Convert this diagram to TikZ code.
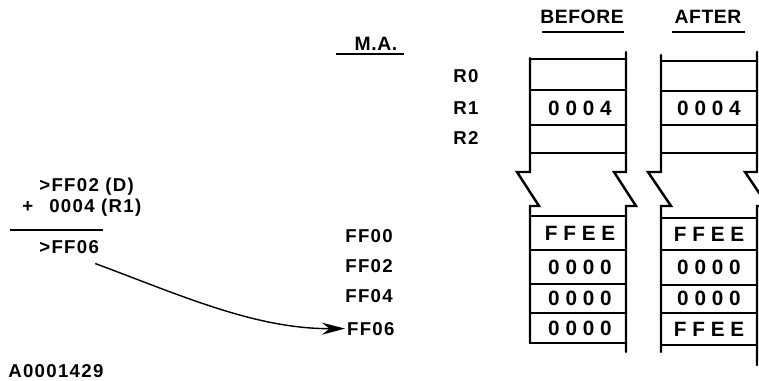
\documentclass[tikz,border=0pt]{standalone}
\usepackage{fontspec}
\setmainfont{Liberation Sans}
\newfontfamily\lblfont[LetterSpace=7]{Liberation Sans Bold}
\newfontfamily\cellfont[LetterSpace=28]{Liberation Sans Bold}
\newfontfamily\headfont[LetterSpace=3]{Liberation Sans Bold}
\usetikzlibrary{arrows.meta}

\begin{document}
\begin{tikzpicture}[x=0.02cm, y=-0.02cm,
  font=\lblfont\fontsize{10.6}{12}\selectfont,
  lbl/.style={inner sep=0pt, anchor=base west},
  cell/.style={inner sep=0pt, font=\cellfont\fontsize{11.8}{13}\selectfont},
  head/.style={inner sep=0pt, anchor=base, font=\headfont\fontsize{11}{13}\selectfont},
  mem/.style={line width=1.4pt, line cap=round},
  rule/.style={line width=0.9pt},
  arr/.style={-{Stealth[length=4.6mm, width=2.4mm]}, line width=0.8pt}]
\useasboundingbox (0,0) rectangle (759,381);
% --- headings ---
\node[head] (before) at (582,24) {BEFORE};
\node[head] (after) at (708,24) {AFTER};
\node[head] (ma) at (376,51) {M.A.};
\draw[rule] (542,32) -- (624,32);
\draw[rule] (672,32) -- (745,32);
\draw[rule] (336,54) -- (404,54);
% --- register and address labels ---
\node[lbl] (r0) at (453,83) {R0};
\node[lbl] (r1) at (453,115) {R1};
\node[lbl] (r2) at (453,145) {R2};
\node[lbl] (a00) at (345,242) {FF00};
\node[lbl] (a02) at (345,272) {FF02};
\node[lbl] (a04) at (345,302) {FF04};
\node[lbl, inner sep=1pt] (a06) at (345,335) {FF06};
% --- address sum ---
\node[lbl] (opd) at (39,192) {>FF02 (D)};
\node[lbl] (plus) at (22,213) {+};
\node[lbl] (opr) at (49,213) {0004 (R1)};
\draw[rule] (10,230) -- (103,230);
\node[lbl] (sum) at (39,253) {>FF06};
\draw[arr] (sum.south east) ++(-4,10) .. controls (180,295) and (255,329) .. (a06.west);
\node[lbl] (fig) at (8,377) {A0001429};
% --- memory before ---
\draw[mem] (530,58) -- (530,172) -- (517,172) -- (539,206) -- (530,206) -- (530,343);
\draw[mem] (626,52) -- (626,172) -- (614,172) -- (636,206) -- (626,206) -- (626,352);
\foreach \y in {59,90,125,153,216,250,284,313,343}
  \draw[mem] (530,\y) -- (626,\y);
% --- memory after ---
\draw[mem] (661,55) -- (661,172) -- (648,172) -- (671,206) -- (661,206) -- (661,352);
\draw[mem] (757,52) -- (757,172) -- (745,172) -- (768,206) -- (757,206) -- (757,365);
\foreach \y in {61,91,125,153,218,250,285,313,345}
  \draw[mem] (661,\y) -- (757,\y);
% --- cell contents ---
\node[cell] (b1) at (580,108) {0004};
\node[cell] (b4) at (580,233) {FFEE};
\node[cell] (b5) at (580,267) {0000};
\node[cell] (b6) at (580,298) {0000};
\node[cell] (b7) at (580,328) {0000};
\node[cell] (f1) at (709,108) {0004};
\node[cell] (f4) at (709,234) {FFEE};
\node[cell] (f5) at (709,267) {0000};
\node[cell] (f6) at (709,298) {0000};
\node[cell] (f7) at (709,329) {FFEE};
\end{tikzpicture}
\end{document}
